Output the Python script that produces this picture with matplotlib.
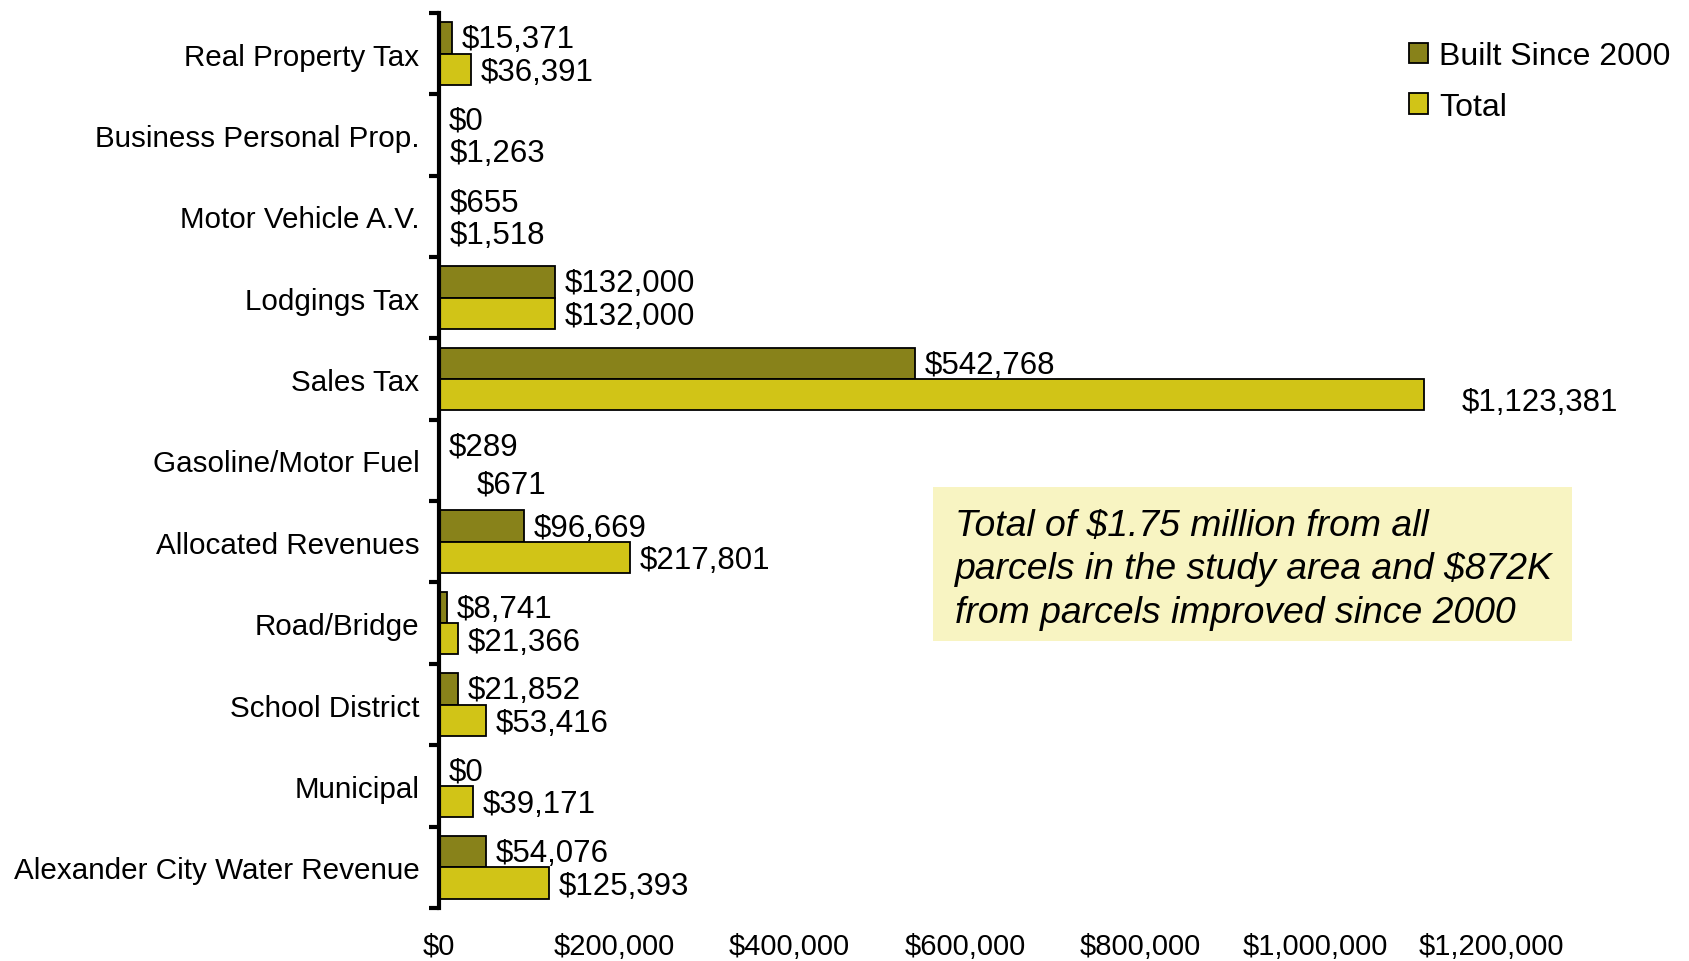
import numpy as np
import matplotlib
matplotlib.use("Agg")
import matplotlib.pyplot as plt
from matplotlib.patches import Patch, Rectangle
from matplotlib.ticker import FuncFormatter, FixedLocator

plt.rcParams["font.family"] = ["Liberation Sans", "DejaVu Sans"]

# revenue sources, top to bottom
categories = [
    "Real Property Tax",
    "Business Personal Prop.",
    "Motor Vehicle A.V.",
    "Lodgings Tax",
    "Sales Tax",
    "Gasoline/Motor Fuel",
    "Allocated Revenues",
    "Road/Bridge",
    "School District",
    "Municipal",
    "Alexander City Water Revenue",
]
built_since_2000 = [15371, 0, 655, 132000, 542768, 289, 96669, 8741, 21852, 0, 54076]
total = [36391, 1263, 1518, 132000, 1123381, 671, 217801, 21366, 53416, 39171, 125393]
x_ticks = [0, 200000, 400000, 600000, 800000, 1000000, 1200000]

note = ("Total of $1.75 million from all\n"
        "parcels in the study area and $872K\n"
        "from parcels improved since 2000")

C_BUILT = "#88821a"
C_TOTAL = "#d1c417"
C_NOTE = "#f8f4c2"

# a couple of value labels are pushed off their bars (dx, dy in points)
nudge_total = {4: (20, -3), 5: (20, -4)}

fig = plt.figure(figsize=(16.89, 9.62), dpi=100)
ax = fig.add_axes([0.2599, 0.0552, 0.6229, 0.9303])

y = np.arange(len(categories))
h = 0.385
ax.barh(y - h / 2, built_since_2000, height=h, color=C_BUILT, edgecolor="black", linewidth=1.3)
ax.barh(y + h / 2, total, height=h, color=C_TOTAL, edgecolor="black", linewidth=1.3)

for i, (b, t) in enumerate(zip(built_since_2000, total)):
    ax.annotate(f"${b:,}", (b, i - h / 2), xytext=(7, -1), textcoords="offset points",
                va="center", ha="left", fontsize=22.5)
    dx, dy = nudge_total.get(i, (0, 0))
    ax.annotate(f"${t:,}", (t, i + h / 2), xytext=(7 + dx, -2 + dy), textcoords="offset points",
                va="center", ha="left", fontsize=22.5)

ax.set_ylim(len(categories) - 0.5, -0.5)
ax.set_xlim(0, 1200000)

ax.set_yticks(y)
ax.set_yticklabels(categories, fontsize=21.3)
ax.yaxis.set_minor_locator(FixedLocator(np.arange(-0.5, len(categories), 1.0)))
ax.tick_params(axis="y", which="major", length=0, pad=14)
ax.tick_params(axis="y", which="minor", length=7, width=3, direction="out")

ax.set_xticks(x_ticks)
ax.xaxis.set_major_formatter(FuncFormatter(lambda v, p: f"${v:,.0f}"))
ax.tick_params(axis="x", length=0, pad=17, labelsize=21)

for s in ["top", "right", "bottom"]:
    ax.spines[s].set_visible(False)
ax.spines["left"].set_linewidth(3)

handles = [Patch(facecolor=C_BUILT, edgecolor="black", linewidth=1.3),
           Patch(facecolor=C_TOTAL, edgecolor="black", linewidth=1.3)]
fig.legend(handles, ["Built Since 2000", "Total"], loc="upper left",
           bbox_to_anchor=(1409 / 1689, 1 - 42 / 962), frameon=False, fontsize=23,
           handlelength=0.6, handleheight=0.6, handletextpad=0.35,
           labelspacing=0.65, borderpad=0, borderaxespad=0)

# shaded note box
fig.patches.append(Rectangle((933 / 1689, 1 - 642 / 962), 639 / 1689, 154 / 962,
                             transform=fig.transFigure, facecolor=C_NOTE,
                             edgecolor="none", zorder=0))
fig.text(955 / 1689, 1 - 570 / 962, note, fontsize=26.9, style="italic",
         ha="left", va="center", linespacing=1.33)

fig.savefig("out.png", dpi=100)
